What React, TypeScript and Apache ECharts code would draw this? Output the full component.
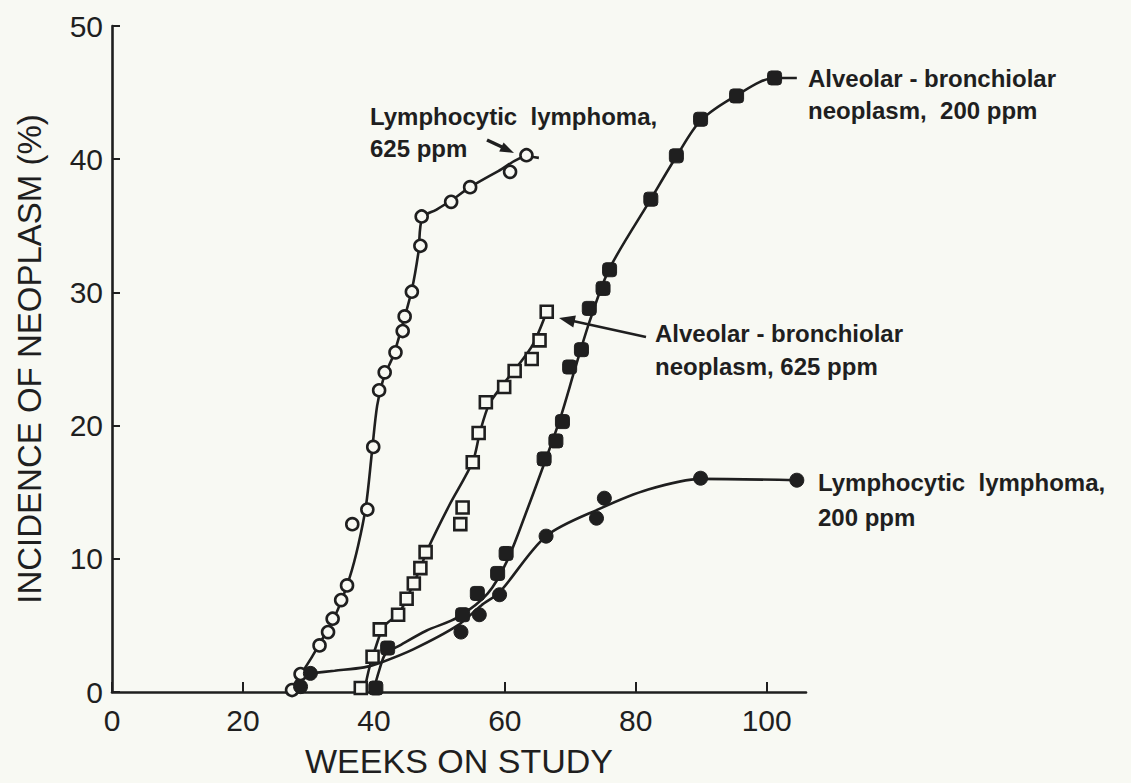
import React, { useEffect, useRef } from "react";
import * as echarts from "echarts";

// ---------- data ----------
const xTickValues = [0, 20, 40, 60, 80, 100];

// Lymphocytic lymphoma, 625 ppm (open circles)
const ll625Points = [
  [27.5, 0.15], [28.8, 1.35], [31.7, 3.5], [33.0, 4.5], [33.7, 5.5], [35.0, 6.9],
  [35.9, 8.0], [36.7, 12.6], [39.0, 13.7], [39.9, 18.4], [40.8, 22.65], [41.65, 24.0],
  [43.3, 25.5], [44.4, 27.1], [44.7, 28.2], [45.8, 30.05], [47.1, 33.5], [47.3, 35.7],
  [51.8, 36.8], [54.7, 37.9], [60.8, 39.05], [63.3, 40.3],
];
const ll625Curve = [
  [27.0, 0], [28.8, 1.3], [30.5, 2.6], [32.5, 4.3], [34.5, 6.2], [36.3, 8.6],
  [37.6, 11.0], [38.8, 14.0], [39.7, 18.0], [40.5, 21.5], [41.5, 23.6], [43.0, 25.3],
  [44.5, 27.8], [45.8, 30.2], [46.8, 33.0], [47.4, 35.6], [49.5, 36.2], [51.8, 36.9],
  [54.7, 37.9], [59.0, 39.1], [63.3, 40.2], [65.2, 40.1],
];

// Alveolar-bronchiolar neoplasm, 625 ppm (open squares)
const ab625Points = [
  [38.0, 0.3], [39.8, 2.65], [40.9, 4.7], [43.7, 5.8], [45.0, 7.0], [46.1, 8.15],
  [47.1, 9.3], [47.9, 10.5], [53.2, 12.6], [53.55, 13.85], [55.1, 17.25], [56.0, 19.45],
  [57.1, 21.75], [59.9, 22.9], [61.5, 24.1], [64.1, 25.0], [65.3, 26.4], [66.4, 28.55],
];
const ab625Curve = [
  [38.5, 0], [39.3, 1.8], [40.3, 3.4], [41.5, 4.9], [43.8, 5.9], [45.0, 7.0],
  [46.1, 8.2], [47.1, 9.3], [48.2, 10.7], [51.5, 14.0], [55.1, 17.3], [56.2, 19.5],
  [57.6, 21.6], [59.6, 23.0], [62.0, 24.5], [64.3, 26.1], [66.4, 28.55],
];

// Alveolar-bronchiolar neoplasm, 200 ppm (filled squares)
const ab200Points = [
  [40.3, 0.3], [42.1, 3.3], [53.55, 5.8], [55.8, 7.4], [58.9, 8.9], [60.2, 10.4],
  [66.0, 17.5], [67.8, 18.85], [68.8, 20.3], [69.9, 24.4], [71.7, 25.7], [72.9, 28.8],
  [75.0, 30.3], [76.0, 31.7], [82.3, 37.0], [86.2, 40.25], [89.9, 43.0], [95.4, 44.75],
  [101.2, 46.1],
];
const ab200Curve = [
  [39.9, 0], [40.8, 1.6], [41.8, 2.9], [43.6, 3.4], [48.0, 4.6], [52.8, 5.6],
  [57.4, 7.4], [60.4, 9.9], [63.5, 13.8], [66.2, 17.4], [68.5, 20.6], [70.8, 24.4],
  [73.0, 27.9], [76.0, 31.8], [82.3, 37.0], [86.2, 40.2], [89.9, 42.9], [95.4, 44.8],
  [101.2, 46.1], [104.6, 46.1],
];

// Lymphocytic lymphoma, 200 ppm (filled circles)
const ll200Points = [
  [28.8, 0.4], [30.3, 1.4], [53.3, 4.5], [56.1, 5.8], [59.2, 7.3], [66.3, 11.7],
  [74.0, 13.05], [75.2, 14.55], [89.9, 16.05], [104.6, 15.9],
];
const ll200Curve = [
  [30.3, 1.4], [34.0, 1.6], [38.5, 1.85], [41.0, 2.2], [46.0, 3.2], [52.8, 5.0],
  [56.4, 6.5], [59.2, 7.5], [66.3, 11.7], [74.7, 13.8], [81.9, 15.2], [89.9, 16.0],
  [104.6, 15.9],
];

const INK = "#1f1f1f";
const BG = "#f8f9f3";
const FONT = "Liberation Sans";

function curveSeries(data: number[][]) {
  return {
    type: "line",
    data,
    smooth: 0.3,
    showSymbol: false,
    symbol: "none",
    lineStyle: { color: INK, width: 2.6 },
    z: 2,
    silent: true,
  };
}

function markerSeries(data: number[][], symbol: string, size: number, filled: boolean) {
  return {
    type: "scatter",
    data,
    symbol,
    symbolSize: size,
    itemStyle: filled
      ? { color: INK, borderColor: INK, borderWidth: 1, opacity: 1 }
      : { color: BG, borderColor: INK, borderWidth: 2.6, opacity: 1 },
    z: 3,
    silent: true,
  };
}

function label(text: string, x: number, y: number) {
  return {
    type: "text",
    x,
    y,
    style: {
      text,
      fill: INK,
      font: `bold 24px "${FONT}"`,
      textVerticalAlign: "middle",
      textAlign: "left",
    },
  };
}

export default function App() {
  const ref = useRef<HTMLDivElement>(null);

  useEffect(() => {
    const chart = echarts.init(ref.current!, null, { renderer: "svg" });
    chart.setOption({
      animation: false,
      backgroundColor: BG,
      grid: { left: 112, top: 26, right: 325, bottom: 91, containLabel: false, outerBoundsMode: "none" },
      xAxis: {
        type: "value",
        min: 0,
        max: 106,
        name: "WEEKS ON STUDY",
        nameLocation: "middle",
        nameGap: 52,
        nameTextStyle: { fontFamily: FONT, fontSize: 34, color: INK },
        axisLine: { show: true, lineStyle: { color: INK, width: 2.6 } },
        axisTick: { show: true, inside: true, length: 10, customValues: xTickValues, lineStyle: { color: INK, width: 2 } },
        axisLabel: { customValues: xTickValues, fontFamily: FONT, fontSize: 30, color: INK, margin: 13 },
        splitLine: { show: false },
      },
      yAxis: {
        type: "value",
        min: 0,
        max: 50,
        interval: 10,
        name: "INCIDENCE OF NEOPLASM (%)",
        nameLocation: "middle",
        nameRotate: 90,
        nameGap: 66,
        nameTextStyle: { fontFamily: FONT, fontSize: 33, color: INK },
        axisLine: { show: true, lineStyle: { color: INK, width: 2.6 } },
        axisTick: { show: true, inside: true, length: 8, lineStyle: { color: INK, width: 2 } },
        axisLabel: { fontFamily: FONT, fontSize: 30, color: INK, margin: 9 },
        splitLine: { show: false },
      },
      series: [
        curveSeries(ll625Curve),
        curveSeries(ab625Curve),
        curveSeries(ab200Curve),
        curveSeries(ll200Curve),
        markerSeries(ll625Points, "circle", 12, false),
        markerSeries(ab625Points, "rect", 12, false),
        markerSeries(ab200Points, "roundRect", 14, true),
        markerSeries(ll200Points, "circle", 14, true),
      ],
      graphic: [
        label("Lymphocytic  lymphoma,", 370, 116),
        label("625 ppm", 370, 148),
        label("Alveolar - bronchiolar", 808, 78),
        label("neoplasm,  200 ppm", 808, 110),
        label("Alveolar - bronchiolar", 655, 333),
        label("neoplasm, 625 ppm", 655, 366),
        label("Lymphocytic  lymphoma,", 818, 482),
        label("200 ppm", 818, 517),
        // arrow to Lymphocytic lymphoma 625 ppm
        { type: "line", shape: { x1: 487, y1: 140, x2: 502, y2: 147 }, style: { stroke: INK, lineWidth: 3.5 } },
        { type: "polygon", shape: { points: [[514, 153], [503.6, 142.4], [499.2, 151.4]] }, style: { fill: INK } },
        // arrow to Alveolar-bronchiolar 625 ppm
        { type: "line", shape: { x1: 646, y1: 337, x2: 573, y2: 321 }, style: { stroke: INK, lineWidth: 2.6 } },
        { type: "polygon", shape: { points: [[559, 318], [573.3, 327.4], [575.9, 315.6]] }, style: { fill: INK } },
      ],
    });
    return () => chart.dispose();
  }, []);

  return (
    <div
      ref={ref}
      style={{ position: "fixed", left: 0, top: 0, width: 1131, height: 783 }}
    />
  );
}
